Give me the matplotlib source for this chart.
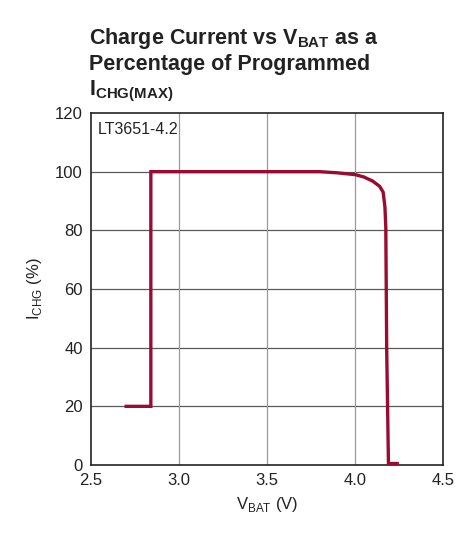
import matplotlib
matplotlib.use("Agg")
import matplotlib.pyplot as plt

plt.rcParams['font.family'] = ['Liberation Sans', 'DejaVu Sans']

# Data
vbat = [2.70, 2.84, 2.84, 3.00, 3.50, 3.80, 3.90, 4.00, 4.05, 4.10, 4.14, 4.16, 4.17, 4.175, 4.18, 4.19, 4.19, 4.24]
ichg = [20, 20, 100, 100, 100, 100, 99.6, 99.0, 98.2, 96.8, 95.0, 93.0, 88.0, 81.0, 40.0, 0.5, 0.5, 0.5]

xticks = [2.5, 3.0, 3.5, 4.0, 4.5]
yticks = [0, 20, 40, 60, 80, 100, 120]

fig = plt.figure(figsize=(4.66, 5.39), dpi=100)
ax = fig.add_axes([91/466, 1 - 465/539, (443-91)/466, (465-113)/539])

ax.plot(vbat, ichg, color='#9b0a31', lw=2.4, solid_joinstyle='miter', zorder=3)

ax.set_xlim(2.5, 4.5)
ax.set_ylim(0, 120)
ax.set_xticks(xticks)
ax.set_xticklabels([f"{t:.1f}" for t in xticks])
ax.set_yticks(yticks)
for y in yticks[1:-1]:
    ax.axhline(y, color='#5a5a5a', lw=0.9, zorder=1)
for x in xticks[1:-1]:
    ax.axvline(x, color='#9a9a9a', lw=0.9, zorder=1)
ax.tick_params(length=0, labelsize=12, pad=6, colors='#222222')
for s in ax.spines.values():
    s.set_color('#222222')
    s.set_linewidth(1.2)

ax.text(0.02, 0.975, 'LT3651-4.2', transform=ax.transAxes, ha='left', va='top', fontsize=11.5, color='#222222')

ax.set_xlabel(r'V$_{\mathregular{BAT}}$ (V)', fontsize=12, color='#222222', labelpad=5)
ax.set_ylabel(r'I$_{\mathregular{CHG}}$ (%)', fontsize=12, color='#222222', labelpad=8)

fig.text(89/466, 1 - 26/539, 'Charge Current vs V$_{\\mathregular{BAT}}$ as a\nPercentage of Programmed\nI$_{\\mathregular{CHG(MAX)}}$',
         ha='left', va='top', fontsize=15.5, fontweight='bold', color='#222222', linespacing=1.2)

fig.savefig('out.png', dpi=100)
